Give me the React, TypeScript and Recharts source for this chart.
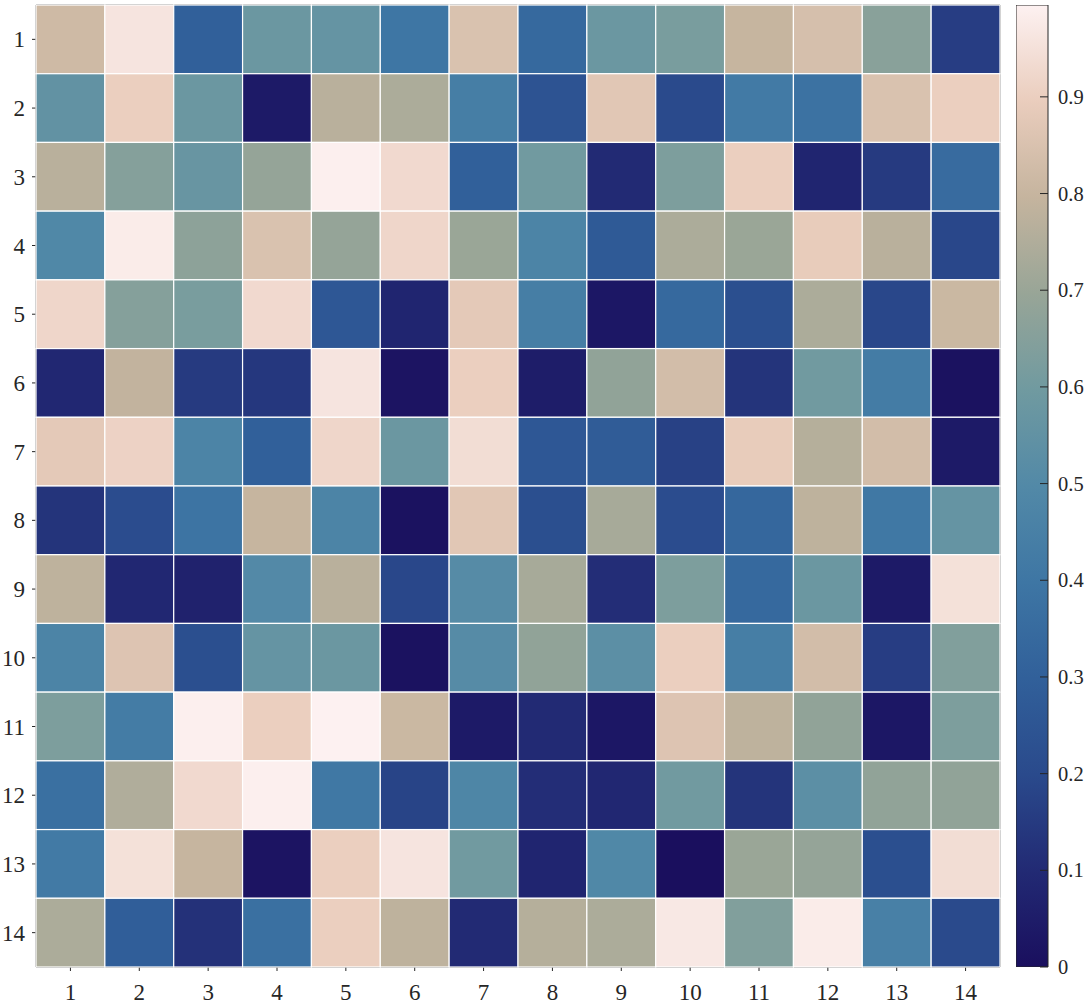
import React from 'react';
import {
    ScatterChart,
    Scatter,
    XAxis,
    YAxis,
    BarChart,
    Bar,
} from 'recharts';

const ROW_LABELS = [1, 2, 3, 4, 5, 6, 7, 8, 9, 10, 11, 12, 13, 14];
const COL_LABELS = [1, 2, 3, 4, 5, 6, 7, 8, 9, 10, 11, 12, 13, 14];
const CBAR_TICKS = [0, 0.1, 0.2, 0.3, 0.4, 0.5, 0.6, 0.7, 0.8, 0.9];

// one list per row, left to right
const VALUES = [
    [0.82, 0.96, 0.30, 0.58, 0.56, 0.40, 0.85, 0.34, 0.58, 0.62, 0.80, 0.84, 0.66, 0.16],
    [0.55, 0.90, 0.58, 0.04, 0.77, 0.74, 0.44, 0.24, 0.87, 0.20, 0.42, 0.38, 0.85, 0.90],
    [0.77, 0.65, 0.57, 0.69, 0.99, 0.93, 0.30, 0.60, 0.10, 0.63, 0.90, 0.08, 0.15, 0.35],
    [0.49, 0.98, 0.67, 0.85, 0.69, 0.92, 0.70, 0.47, 0.27, 0.74, 0.70, 0.89, 0.77, 0.19],
    [0.92, 0.65, 0.62, 0.93, 0.26, 0.08, 0.88, 0.44, 0.03, 0.34, 0.22, 0.74, 0.19, 0.81],
    [0.09, 0.79, 0.15, 0.14, 0.96, 0.02, 0.90, 0.05, 0.68, 0.83, 0.13, 0.60, 0.43, 0.01],
    [0.88, 0.91, 0.47, 0.30, 0.92, 0.58, 0.94, 0.26, 0.28, 0.17, 0.89, 0.76, 0.83, 0.04],
    [0.13, 0.21, 0.39, 0.80, 0.47, 0.01, 0.87, 0.22, 0.73, 0.21, 0.33, 0.78, 0.41, 0.56],
    [0.78, 0.09, 0.07, 0.50, 0.77, 0.19, 0.51, 0.73, 0.11, 0.63, 0.34, 0.58, 0.04, 0.95],
    [0.47, 0.86, 0.22, 0.56, 0.58, 0.01, 0.51, 0.68, 0.53, 0.90, 0.44, 0.83, 0.16, 0.64],
    [0.63, 0.43, 0.99, 0.90, 0.995, 0.81, 0.04, 0.10, 0.03, 0.86, 0.78, 0.68, 0.03, 0.63],
    [0.37, 0.75, 0.93, 0.99, 0.41, 0.18, 0.48, 0.11, 0.09, 0.60, 0.13, 0.53, 0.68, 0.68],
    [0.42, 0.95, 0.80, 0.02, 0.90, 0.96, 0.60, 0.08, 0.49, 0.0, 0.70, 0.69, 0.22, 0.94],
    [0.74, 0.29, 0.12, 0.37, 0.90, 0.78, 0.10, 0.76, 0.74, 0.97, 0.64, 0.98, 0.45, 0.20],
];

// colormap stops [position, colour]
const CMAP: [number, string][] = [
    [0.0, '#1a0f5e'],
    [0.1, '#222a74'],
    [0.2, '#2a4a8c'],
    [0.3, '#31609a'],
    [0.4, '#3e76a4'],
    [0.5, '#5289a7'],
    [0.6, '#709aa0'],
    [0.7, '#98a597'],
    [0.8, '#c5b49e'],
    [0.9, '#eacdbd'],
    [1.0, '#fdf1f1'],
];

const FONT = 'Liberation Serif';
const TEXT = '#262626';

const W = 1010;
const H = 1004;
const LEFT = 36;
const RIGHT = 10;
const TOP = 5;
const BOTTOM = 37;
const CELL_W = (W - LEFT - RIGHT) / COL_LABELS.length;
const CELL_H = (H - TOP - BOTTOM) / ROW_LABELS.length;

const flat = VALUES.flat();
const VMIN = Math.min(...flat);
const VMAX = Math.max(...flat);

function hex(c: string) {
    return [1, 3, 5].map(i => parseInt(c.slice(i, i + 2), 16));
}

function colorAt(t: number) {
    const u = Math.max(0, Math.min(1, t));
    for (let i = 0; i < CMAP.length - 1; i++) {
        const [p0, c0] = CMAP[i];
        const [p1, c1] = CMAP[i + 1];
        if (u <= p1) {
            const f = (u - p0) / (p1 - p0);
            const a = hex(c0);
            const b = hex(c1);
            const m = a.map((v, k) => Math.round(v + (b[k] - v) * f));
            return `rgb(${m[0]},${m[1]},${m[2]})`;
        }
    }
    return CMAP[CMAP.length - 1][1];
}

const cells = VALUES.flatMap((row, r) =>
    row.map((v, c) => ({ x: COL_LABELS[c], y: ROW_LABELS[r], v }))
);

const HeatCell = (props: any) => {
    const { cx, cy, payload } = props;
    if (cx == null || cy == null) return null;
    const t = (payload.v - VMIN) / (VMAX - VMIN);
    return (
        <rect
            x={cx - CELL_W / 2}
            y={cy - CELL_H / 2}
            width={CELL_W}
            height={CELL_H}
            fill={colorAt(t)}
            stroke="#ffffff"
            strokeWidth={1.2}
        />
    );
};

// axis tick label, drawn as plain svg text so the font is certain
const AxisTick = (props: any) => {
    const { x, y, payload, textAnchor, orientation } = props;
    const dy = orientation === 'bottom' ? '0.71em' : '0.35em';
    return (
        <text
            x={x}
            y={y}
            dy={dy}
            textAnchor={textAnchor}
            fontFamily={FONT}
            fontSize={23}
            fill={TEXT}
        >
            {String(payload.value)}
        </text>
    );
};

const CbarTick = (props: any) => {
    const { x, y, payload } = props;
    return (
        <g>
            <line x1={x - 18} x2={x - 10} y1={y} y2={y} stroke={TEXT} strokeWidth={1} />
            <text x={x} y={y} dy="0.35em" textAnchor="start" fontFamily={FONT} fontSize={20.5} fill={TEXT}>
                {String(payload.value)}
            </text>
        </g>
    );
};

const CBAR_DATA = [{ name: 'cbar', v: VMAX }];

export default function App() {
    return (
        <div style={{ position: 'absolute', left: 0, top: 0, width: 1088, height: 1004, background: '#fff' }}>
            <div style={{ position: 'absolute', left: 0, top: 0 }}>
                <ScatterChart width={W} height={H} margin={{ top: 0, right: 0, bottom: 0, left: 0 }}>
                    <XAxis
                        xAxisId="b"
                        type="number"
                        dataKey="x"
                        domain={[0.5, 14.5]}
                        ticks={COL_LABELS}
                        height={BOTTOM}
                        tickSize={4}
                        tickMargin={13}
                        tick={<AxisTick orientation="bottom" />}
                        axisLine={{ stroke: TEXT }}
                        tickLine={{ stroke: TEXT }}
                        interval={0}
                    />
                    <XAxis
                        xAxisId="t"
                        orientation="top"
                        type="number"
                        domain={[0.5, 14.5]}
                        ticks={COL_LABELS}
                        height={TOP}
                        tickSize={3}
                        tick={false}
                        axisLine={{ stroke: TEXT }}
                        tickLine={{ stroke: TEXT }}
                        interval={0}
                    />
                    <YAxis
                        yAxisId="l"
                        type="number"
                        dataKey="y"
                        domain={[0.5, 14.5]}
                        reversed
                        ticks={ROW_LABELS}
                        width={LEFT}
                        tickSize={4}
                        tickMargin={7}
                        tick={<AxisTick orientation="left" />}
                        axisLine={{ stroke: TEXT }}
                        tickLine={{ stroke: TEXT }}
                        interval={0}
                    />
                    <YAxis
                        yAxisId="r"
                        orientation="right"
                        type="number"
                        domain={[0.5, 14.5]}
                        reversed
                        ticks={ROW_LABELS}
                        width={RIGHT}
                        tickSize={3}
                        tick={false}
                        axisLine={{ stroke: TEXT }}
                        tickLine={{ stroke: TEXT }}
                        interval={0}
                    />
                    <Scatter
                        data={cells}
                        xAxisId="b"
                        yAxisId="l"
                        shape={HeatCell}
                        isAnimationActive={false}
                    />
                </ScatterChart>
            </div>
            <div style={{ position: 'absolute', left: 1016, top: 0 }}>
                <BarChart
                    width={72}
                    height={H}
                    data={CBAR_DATA}
                    margin={{ top: TOP, right: 0, bottom: BOTTOM, left: 0 }}
                    barCategoryGap={0}
                >
                    <defs>
                        <linearGradient id="cbarGrad" x1="0" y1="1" x2="0" y2="0">
                            {CMAP.map(([p, c]) => (
                                <stop key={p} offset={`${p * 100}%`} stopColor={c} />
                            ))}
                        </linearGradient>
                    </defs>
                    <XAxis dataKey="name" hide />
                    <YAxis
                        orientation="right"
                        type="number"
                        domain={[VMIN, VMAX]}
                        ticks={CBAR_TICKS}
                        width={40}
                        axisLine={false}
                        tickLine={false}
                        tickSize={0}
                        tickMargin={10}
                        tick={<CbarTick />}
                        interval={0}
                        allowDataOverflow
                    />
                    <Bar
                        dataKey="v"
                        fill="url(#cbarGrad)"
                        stroke={TEXT}
                        strokeWidth={1}
                        isAnimationActive={false}
                    />
                </BarChart>
            </div>
        </div>
    );
}
